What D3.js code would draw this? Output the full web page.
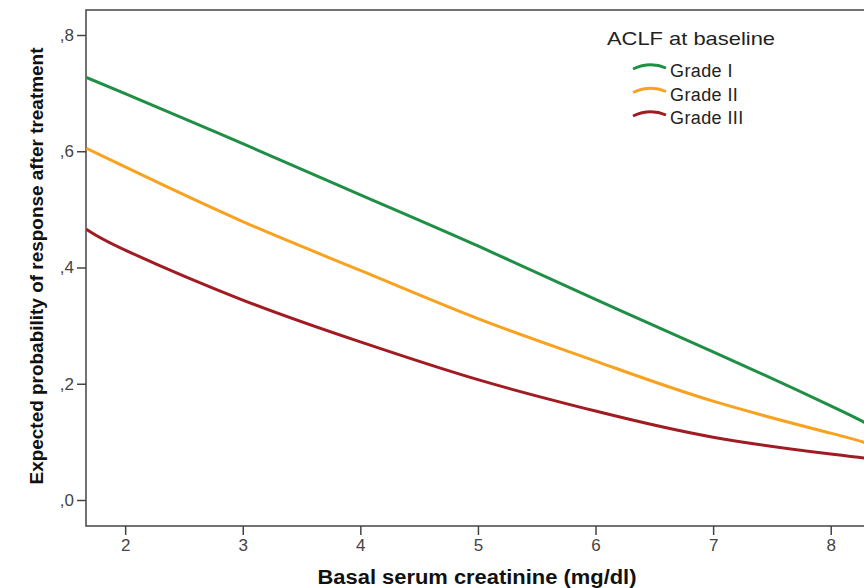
<!DOCTYPE html>
<html>
<head>
<meta charset="utf-8">
<script src="https://cdn.jsdelivr.net/npm/d3@7"></script>
<style>
  body { margin: 0; background: #fff; }
  svg { display: block; font-family: Arial, "Liberation Sans", sans-serif; }
</style>
</head>
<body>
<div id="chart"></div>
<script>
// Creatinine values where the curves were read
const creatinine = [1.67, 2, 3, 4, 5, 6, 7, 8, 8.3];

// Expected probability per ACLF grade
const gradeI   = [0.727, 0.699, 0.613, 0.525, 0.437, 0.345, 0.255, 0.162, 0.132];
const gradeII  = [0.605, 0.573, 0.479, 0.395, 0.312, 0.239, 0.170, 0.115, 0.098];
const gradeIII = [0.466, 0.430, 0.344, 0.272, 0.207, 0.153, 0.108, 0.079, 0.072];

const seriesNames = ['Grade I', 'Grade II', 'Grade III'];
const seriesColors = ['#1f8f45', '#f8a21f', '#a01c22'];

const xTicks = [2, 3, 4, 5, 6, 7, 8];
const yTicks = [0, 0.2, 0.4, 0.6, 0.8];
const yTickLabels = [',0', ',2', ',4', ',6', ',8'];

const width = 864, height = 588;
const margin = {top: 10, right: -2, bottom: 62, left: 86};

const svg = d3.select('#chart').append('svg')
    .attr('width', width)
    .attr('height', height);

const x = d3.scaleLinear()
    .domain([1.667, 8.3])
    .range([margin.left, width - margin.right]);

const y = d3.scaleLinear()
    .domain([0, 0.8])
    .range([500, 35]);

const plotBottom = height - margin.bottom;

// frame (left, top, bottom)
svg.append('path')
    .attr('d', `M${width + 5},${margin.top}H${margin.left}V${plotBottom}H${width + 5}`)
    .attr('fill', 'none')
    .attr('stroke', '#444')
    .attr('stroke-width', 1.5);

// x axis
const xAxis = svg.append('g')
    .attr('transform', `translate(0,${plotBottom})`)
    .call(d3.axisBottom(x).tickValues(xTicks).tickSize(9).tickPadding(4).tickFormat(d3.format('d')));
xAxis.select('.domain').remove();

// y axis
const yAxis = svg.append('g')
    .attr('transform', `translate(${margin.left},0)`)
    .call(d3.axisLeft(y).tickValues(yTicks).tickSize(9).tickPadding(3)
        .tickFormat((d, i) => yTickLabels[i]));
yAxis.select('.domain').remove();

svg.selectAll('.tick line').attr('stroke', '#444').attr('stroke-width', 1.5);
svg.selectAll('.tick text')
    .attr('fill', '#444')
    .style('font-size', '17px')
    .style('font-family', 'Arial, "Liberation Sans", sans-serif');

// axis titles
svg.append('text')
    .attr('x', 477)
    .attr('y', 584)
    .attr('text-anchor', 'middle')
    .attr('textLength', 319)
    .attr('lengthAdjust', 'spacingAndGlyphs')
    .style('font-size', '20px')
    .style('font-weight', 'bold')
    .attr('fill', '#111')
    .text('Basal serum creatinine (mg/dl)');

svg.append('text')
    .attr('transform', 'translate(43,266) rotate(-90)')
    .attr('text-anchor', 'middle')
    .attr('textLength', 437)
    .attr('lengthAdjust', 'spacingAndGlyphs')
    .style('font-size', '19px')
    .style('font-weight', 'bold')
    .attr('fill', '#111')
    .text('Expected probability of response after treatment');

// curves
const allSeries = [gradeI, gradeII, gradeIII];
const line = d3.line()
    .x(d => x(d[0]))
    .y(d => y(d[1]))
    .curve(d3.curveNatural);

svg.append('clipPath').attr('id', 'plotclip')
    .append('rect')
    .attr('x', margin.left).attr('y', margin.top)
    .attr('width', width - margin.left).attr('height', plotBottom - margin.top);

svg.append('g').attr('clip-path', 'url(#plotclip)')
    .selectAll('path.curve')
    .data(allSeries)
    .join('path')
    .attr('class', 'curve')
    .attr('d', vals => line(creatinine.map((c, i) => [c, vals[i]])))
    .attr('fill', 'none')
    .attr('stroke', (d, i) => seriesColors[i])
    .attr('stroke-width', 3);

// legend
const legend = svg.append('g');
legend.append('text')
    .attr('x', 607)
    .attr('y', 45)
    .attr('textLength', 168)
    .attr('lengthAdjust', 'spacingAndGlyphs')
    .style('font-size', '19px')
    .attr('fill', '#222')
    .text('ACLF at baseline');

const items = legend.selectAll('g.item')
    .data(seriesNames)
    .join('g')
    .attr('class', 'item')
    .attr('transform', (d, i) => `translate(0,${68 + i * 23.5})`);

items.append('path')
    .attr('d', 'M633,1Q650,-7 666,0')
    .attr('fill', 'none')
    .attr('stroke', (d, i) => seriesColors[i])
    .attr('stroke-width', 3);

items.append('text')
    .attr('x', 670)
    .attr('y', 9)
    .style('font-size', '18px')
    .style('letter-spacing', '0.4px')
    .attr('fill', '#222')
    .text(d => d);
</script>
</body>
</html>
